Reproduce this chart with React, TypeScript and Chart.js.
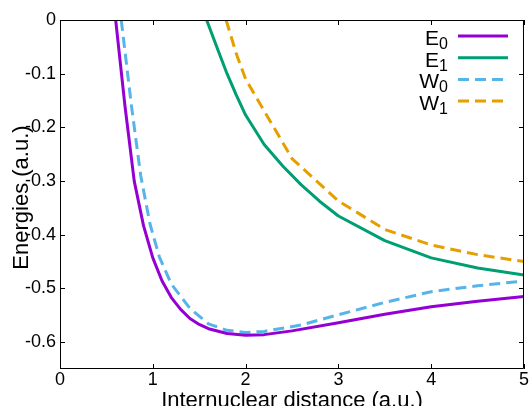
import React, { useEffect, useRef } from "react";
import { Chart, registerables } from "chart.js";

Chart.register(...registerables);

// ---- data ----
const e0X = [0.6, 0.7, 0.8, 0.9, 1.0, 1.1, 1.2, 1.3, 1.4, 1.5, 1.6, 1.8, 2.0, 2.2, 2.5, 3.0, 3.5, 4.0, 4.5, 5.0];
const e0Y = [0, -0.16, -0.3, -0.383, -0.443, -0.486, -0.517, -0.539, -0.556, -0.567, -0.575, -0.584, -0.587, -0.586, -0.579, -0.564, -0.548, -0.534, -0.524, -0.515];

const e1X = [1.58, 1.7, 1.8, 1.9, 2.0, 2.2, 2.4, 2.6, 2.8, 3.0, 3.5, 4.0, 4.5, 5.0];
const e1Y = [0, -0.055, -0.1, -0.14, -0.177, -0.232, -0.272, -0.307, -0.338, -0.365, -0.411, -0.443, -0.462, -0.475];

const w0X = [0.66, 0.77, 0.87, 0.97, 1.07, 1.2, 1.4, 1.6, 1.8, 2.0, 2.2, 2.6, 3.0, 3.5, 4.0, 4.5, 5.0];
const w0Y = [0, -0.16, -0.29, -0.38, -0.441, -0.492, -0.537, -0.566, -0.578, -0.582, -0.58, -0.568, -0.549, -0.526, -0.506, -0.495, -0.486];

const w1X = [1.79, 1.9, 2.0, 2.5, 3.0, 3.5, 4.0, 4.5, 5.0];
const w1Y = [0, -0.063, -0.11, -0.258, -0.337, -0.39, -0.419, -0.437, -0.45];

const seriesNames = ["E", "E", "W", "W"];
const seriesSubs = ["0", "1", "0", "1"];
const seriesColors = ["#9400D3", "#009E73", "#56B4E9", "#E69F00"];
const seriesDashed = [false, false, true, true];

const xTicks = [0, 1, 2, 3, 4, 5];
const xTickLabels = ["0", "1", "2", "3", "4", "5"];
const yTicks = [0, -0.1, -0.2, -0.3, -0.4, -0.5, -0.6];
const yTickLabels = ["0", "-0.1", "-0.2", "-0.3", "-0.4", "-0.5", "-0.6"];

const xTitle = "Internuclear distance (a.u.)";
const yTitle = "Energies (a.u.)";

const FONT = "'Liberation Sans', Arial, Helvetica, sans-serif";

const framePlugin = {
  id: "gnuplotFrame",
  afterDraw(chart: any) {
    const { ctx, chartArea, scales } = chart;
    const { left, right, top, bottom } = chartArea;
    const tl = 5;
    ctx.save();
    ctx.strokeStyle = "#000";
    ctx.lineWidth = 1;
    ctx.beginPath();
    ctx.rect(left + 0.5, top + 0.5, right - left - 1, bottom - top - 1);
    ctx.stroke();
    ctx.beginPath();
    for (const v of xTicks) {
      const px = Math.round(scales.x.getPixelForValue(v)) + 0.5;
      ctx.moveTo(px, bottom);
      ctx.lineTo(px, bottom - tl);
      ctx.moveTo(px, top);
      ctx.lineTo(px, top + tl);
    }
    for (const v of yTicks) {
      const py = Math.round(scales.y.getPixelForValue(v)) + 0.5;
      ctx.moveTo(left, py);
      ctx.lineTo(left + tl, py);
      ctx.moveTo(right, py);
      ctx.lineTo(right - tl, py);
    }
    ctx.stroke();

    // axis titles
    ctx.fillStyle = "#000";
    ctx.font = `22px ${FONT}`;
    ctx.textAlign = "center";
    ctx.textBaseline = "alphabetic";
    ctx.fillText(xTitle, (left + right) / 2, 407);
    ctx.save();
    ctx.translate(28, (top + bottom) / 2 + 3);
    ctx.rotate(-Math.PI / 2);
    ctx.fillText(yTitle, 0, 0);
    ctx.restore();

    // legend
    const textRight = right - 76;
    const lineStart = right - 66;
    const lineEnd = right - 16;
    for (let i = 0; i < seriesNames.length; i++) {
      const base = top + 25 + i * 21.7;
      ctx.textAlign = "left";
      ctx.font = `16px ${FONT}`;
      const subW = ctx.measureText(seriesSubs[i]).width;
      ctx.font = `21px ${FONT}`;
      const mainW = ctx.measureText(seriesNames[i]).width;
      ctx.fillStyle = "#000";
      ctx.fillText(seriesNames[i], textRight - subW - mainW, base);
      ctx.font = `16px ${FONT}`;
      ctx.fillText(seriesSubs[i], textRight - subW, base + 4);
      ctx.beginPath();
      ctx.strokeStyle = seriesColors[i];
      ctx.lineWidth = 3;
      ctx.setLineDash(seriesDashed[i] ? [11, 6] : []);
      const ly = base - 9;
      ctx.moveTo(lineStart, ly);
      ctx.lineTo(lineEnd, ly);
      ctx.stroke();
      ctx.setLineDash([]);
    }
    ctx.restore();
  },
};

export default function App() {
  const ref = useRef<HTMLCanvasElement>(null);
  useEffect(() => {
    const mk = (xs: number[], ys: number[]) => xs.map((x, i) => ({ x, y: ys[i] }));
    const pts = [mk(e0X, e0Y), mk(e1X, e1Y), mk(w0X, w0Y), mk(w1X, w1Y)];
    const chart = new Chart(ref.current as HTMLCanvasElement, {
      type: "line",
      data: {
        datasets: pts.map((d, i) => ({
          label: seriesNames[i] + seriesSubs[i],
          data: d,
          borderColor: seriesColors[i],
          backgroundColor: seriesColors[i],
          borderWidth: 3,
          borderDash: seriesDashed[i] ? [11, 6] : [],
          borderJoinStyle: "round",
          pointRadius: 0,
          fill: false,
          tension: 0,
        })),
      },
      options: {
        responsive: false,
        animation: false,
        layout: { padding: { top: 20, right: 5, left: 0, bottom: 0 } },
        plugins: { legend: { display: false }, tooltip: { enabled: false } },
        scales: {
          x: {
            type: "linear",
            min: 0,
            max: 5,
            afterBuildTicks: (s: any) => {
              s.ticks = xTicks.map((v) => ({ value: v }));
            },
            afterFit: (s: any) => {
              s.height = 37;
            },
            grid: { display: false, drawTicks: false },
            border: { display: false },
            ticks: {
              padding: 0,
              color: "#000",
              maxRotation: 0,
              font: { family: FONT, size: 18 },
              callback: (_v: any, i: number) => xTickLabels[i],
            },
          },
          y: {
            type: "linear",
            min: -0.65,
            max: 0,
            afterBuildTicks: (s: any) => {
              s.ticks = yTicks.map((v) => ({ value: v }));
            },
            afterFit: (s: any) => {
              s.width = 60;
            },
            grid: { display: false, drawTicks: false },
            border: { display: false },
            ticks: {
              padding: 4,
              color: "#000",
              font: { family: FONT, size: 18 },
              callback: (_v: any, i: number) => yTickLabels[i],
            },
          },
        },
      } as any,
      plugins: [framePlugin],
    });
    return () => chart.destroy();
  }, []);
  return (
    <div style={{ position: "fixed", left: 0, top: 0 }}>
      <canvas ref={ref} width={529} height={406} style={{ display: "block" }} />
    </div>
  );
}
